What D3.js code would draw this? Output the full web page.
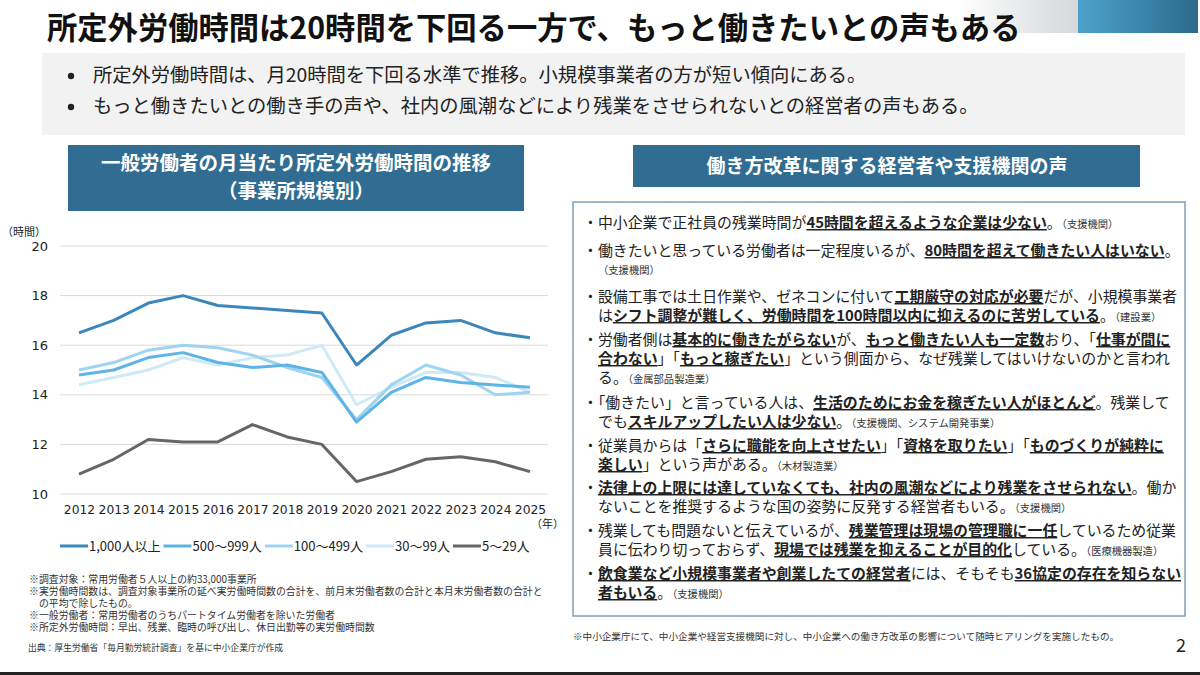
<!DOCTYPE html>
<html>
<head>
<meta charset="utf-8">
<script src="https://cdn.jsdelivr.net/npm/d3@7"></script>
<style>
  body { margin: 0; background: #fff; }
  svg { display: block; font-family: "Noto Sans CJK JP", "Noto Sans", sans-serif; }
  .axis-num { font-family: "DejaVu Sans", Verdana, sans-serif; }
</style>
</head>
<body>
<div id="slide"></div>
<script>
// chart data
const years = [2012, 2013, 2014, 2015, 2016, 2017, 2018, 2019, 2020, 2021, 2022, 2023, 2024, 2025];
const seriesNames = ['1,000人以上', '500～999人', '100～499人', '30～99人', '5～29人'];
const size1000 = [16.5, 17.0, 17.7, 18.0, 17.6, 17.5, 17.4, 17.3, 15.2, 16.4, 16.9, 17.0, 16.5, 16.3];
const size500 = [14.8, 15.0, 15.5, 15.7, 15.3, 15.1, 15.2, 14.9, 12.9, 14.1, 14.7, 14.5, 14.4, 14.3];
const size100 = [15.0, 15.3, 15.8, 16.0, 15.9, 15.6, 15.1, 14.7, 13.0, 14.4, 15.2, 14.8, 14.0, 14.1];
const size30 = [14.4, 14.7, 15.0, 15.5, 15.2, 15.5, 15.6, 16.0, 13.6, 14.3, 14.9, 14.9, 14.7, 14.1];
const size5 = [10.8, 11.4, 12.2, 12.1, 12.1, 12.8, 12.3, 12.0, 10.5, 10.9, 11.4, 11.5, 11.3, 10.9];
const yTicks = [10, 12, 14, 16, 18, 20];
const seriesColors = ['#3b86bb', '#5db4e7', '#9fd4f1', '#cfe9f7', '#666666'];

// text content
const titleText = '所定外労働時間は20時間を下回る一方で、もっと働きたいとの声もある';
const summaryLines = [
  '所定外労働時間は、月20時間を下回る水準で推移。小規模事業者の方が短い傾向にある。',
  'もっと働きたいとの働き手の声や、社内の風潮などにより残業をさせられないとの経営者の声もある。'
];
const footnotes = [
  '※調査対象：常用労働者５人以上の約33,000事業所',
  '※実労働時間数は、調査対象事業所の延べ実労働時間数の合計を、前月末労働者数の合計と本月末労働者数の合計と',
  '　の平均で除したもの。',
  '※一般労働者：常用労働者のうちパートタイム労働者を除いた労働者',
  '※所定外労働時間：早出、残業、臨時の呼び出し、休日出勤等の実労働時間数'
];
// **bold underline**, ((small))
const voiceLines = [
  ['・中小企業で正社員の残業時間が**45時間を超えるような企業は少ない**。((（支援機関）))', 0],
  ['・働きたいと思っている労働者は一定程度いるが、**80時間を超えて働きたい人はいない**。', 0],
  ['((（支援機関）))', 1],
  ['・設備工事では土日作業や、ゼネコンに付いて**工期厳守の対応が必要**だが、小規模事業者', 0],
  ['は**シフト調整が難しく、労働時間を100時間以内に抑えるのに苦労している**。((（建設業）))', 1],
  ['・労働者側は**基本的に働きたがらない**が、**もっと働きたい人も一定数**おり、「**仕事が間に**', 0],
  ['**合わない**」「**もっと稼ぎたい**」という側面から、なぜ残業してはいけないのかと言われ', 1],
  ['る。((（金属部品製造業）))', 1],
  ['・「働きたい」と言っている人は、**生活のためにお金を稼ぎたい人がほとんど**。残業して', 0],
  ['でも**スキルアップしたい人は少ない**。((（支援機関、システム開発事業）))', 1],
  ['・従業員からは「**さらに職能を向上させたい**」「**資格を取りたい**」「**ものづくりが純粋に**', 0],
  ['**楽しい**」という声がある。((（木材製造業）))', 1],
  ['・**法律上の上限には達していなくても、社内の風潮などにより残業をさせられない**。働か', 0],
  ['ないことを推奨するような国の姿勢に反発する経営者もいる。((（支援機関）))', 1],
  ['・残業しても問題ないと伝えているが、**残業管理は現場の管理職に一任**しているため従業', 0],
  ['員に伝わり切っておらず、**現場では残業を抑えることが目的化**している。((（医療機器製造）))', 1],
  ['・**飲食業など小規模事業者や創業したての経営者**には、そもそも**36協定の存在を知らない**', 0],
  ['**者もいる**。((（支援機関）))', 1]
];
const voiceY = [228, 256, 274, 302, 321, 345, 364, 383, 408, 427, 451, 470, 493, 512, 536, 555, 579, 598];

const W = 1200, H = 675;
const svg = d3.select('#slide').append('svg')
  .attr('width', W)
  .attr('height', H);

// top right decoration
const defs = svg.append('defs');
const gGray = defs.append('linearGradient').attr('id', 'gGray');
gGray.append('stop').attr('offset', '0%').attr('stop-color', '#ffffff');
gGray.append('stop').attr('offset', '100%').attr('stop-color', '#d5d7d9');
const gBlue = defs.append('linearGradient').attr('id', 'gBlue');
gBlue.append('stop').attr('offset', '0%').attr('stop-color', '#4da2cb');
gBlue.append('stop').attr('offset', '100%').attr('stop-color', '#2c6a8f');
svg.append('rect').attr('x', 957).attr('y', 0).attr('width', 121).attr('height', 33).attr('fill', 'url(#gGray)');
svg.append('rect').attr('x', 1078).attr('y', 0).attr('width', 120).attr('height', 33).attr('fill', 'url(#gBlue)');

// title
svg.append('text')
  .attr('x', 47)
  .attr('y', 39)
  .attr('font-size', 30.3)
  .attr('font-weight', 'bold')
  .attr('fill', '#111')
  .text(titleText);

// summary box
svg.append('rect').attr('x', 42).attr('y', 53).attr('width', 1143).attr('height', 82).attr('fill', '#f2f2f2');
summaryLines.forEach((t, i) => {
  svg.append('circle').attr('cx', 71).attr('cy', 76 + i * 31).attr('r', 3.2).attr('fill', '#222');
  svg.append('text')
    .attr('x', 93)
    .attr('y', 82 + i * 31)
    .attr('font-size', 19.3)
    .attr('fill', '#222')
    .text(t);
});

// header boxes
const headColor = '#316d92';
svg.append('rect').attr('x', 68).attr('y', 145).attr('width', 456).attr('height', 66).attr('fill', headColor);
svg.append('text').attr('x', 296).attr('y', 170).attr('text-anchor', 'middle')
  .attr('font-size', 19.5).attr('font-weight', 'bold').attr('fill', '#fff')
  .text('一般労働者の月当たり所定外労働時間の推移');
svg.append('text').attr('x', 296).attr('y', 198).attr('text-anchor', 'middle')
  .attr('font-size', 19.5).attr('font-weight', 'bold').attr('fill', '#fff')
  .text('（事業所規模別）');

svg.append('rect').attr('x', 633).attr('y', 145).attr('width', 507).attr('height', 42).attr('fill', headColor);
svg.append('text').attr('x', 887).attr('y', 173).attr('text-anchor', 'middle')
  .attr('font-size', 19).attr('font-weight', 'bold').attr('fill', '#fff')
  .text('働き方改革に関する経営者や支援機関の声');

// line chart
const xScale = d3.scalePoint().domain(years).range([79, 530]);
const yScale = d3.scaleLinear().domain([10, 20]).range([494, 246]);

const chart = svg.append('g');

chart.selectAll('.grid')
  .data(yTicks)
  .enter()
  .append('line')
  .attr('class', 'grid')
  .attr('x1', 60)
  .attr('x2', 548)
  .attr('y1', (d) => yScale(d))
  .attr('y2', (d) => yScale(d))
  .attr('stroke', '#d9d9d9')
  .attr('stroke-width', 1);

// y axis labels
const yAxis = chart.append('g')
  .attr('transform', 'translate(50,0)')
  .call(d3.axisLeft(yScale).tickValues(yTicks).tickSize(0).tickPadding(2));
yAxis.select('.domain').remove();
yAxis.selectAll('text')
  .attr('class', 'axis-num')
  .attr('font-size', 13)
  .attr('fill', '#222');

// x axis labels
const xAxis = chart.append('g')
  .attr('transform', 'translate(0,500)')
  .call(d3.axisBottom(xScale).tickSize(0).tickPadding(5));
xAxis.select('.domain').remove();
xAxis.selectAll('text')
  .attr('class', 'axis-num')
  .attr('font-size', 12.3)
  .attr('fill', '#222');

svg.append('text').attr('x', 2).attr('y', 236).attr('font-size', 11).attr('fill', '#222').text('（時間）');
svg.append('text').attr('x', 531).attr('y', 528).attr('font-size', 11).attr('fill', '#222').text('（年）');

const allSeries = [size1000, size500, size100, size30, size5];
const line = d3.line()
  .x((d, i) => xScale(years[i]))
  .y((d) => yScale(d));

// draw lightest first so darker lines sit on top
const drawOrder = [3, 2, 1, 0, 4];
drawOrder.forEach((k) => {
  chart.append('path')
    .datum(allSeries[k])
    .attr('fill', 'none')
    .attr('stroke', seriesColors[k])
    .attr('stroke-width', 3)
    .attr('stroke-linejoin', 'round')
    .attr('d', line);
});

// legend
const legend = svg.append('g').attr('transform', 'translate(60,546)');
let lx = 0;
seriesNames.forEach((name, k) => {
  legend.append('line')
    .attr('x1', lx).attr('x2', lx + 28)
    .attr('y1', 0).attr('y2', 0)
    .attr('stroke', seriesColors[k])
    .attr('stroke-width', 3);
  const t = legend.append('text')
    .attr('x', lx + 29)
    .attr('y', 5)
    .attr('font-size', 13)
    .attr('fill', '#222')
    .text(name);
  lx += 29 + t.node().getComputedTextLength() + 3;
});

// footnotes
const footY = [583, 595, 607, 619, 631];
footnotes.forEach((t, i) => {
  svg.append('text').attr('x', 29).attr('y', footY[i])
    .attr('font-size', 9.9).attr('fill', '#333').text(t);
});
svg.append('text').attr('x', 28).attr('y', 651)
  .attr('font-size', 8.8).attr('fill', '#333')
  .text('出典：厚生労働省「毎月勤労統計調査」を基に中小企業庁が作成');

// voices panel
svg.append('rect')
  .attr('x', 573).attr('y', 202).attr('width', 612).attr('height', 414)
  .attr('fill', '#fff').attr('stroke', '#7f9fb6').attr('stroke-width', 1.5);

function parseSegments(str) {
  const parts = [];
  const re = /\*\*(.+?)\*\*|\(\((.+?)\)\)/g;
  let last = 0, m;
  while ((m = re.exec(str)) !== null) {
    if (m.index > last) parts.push({ t: str.slice(last, m.index), s: 'n' });
    if (m[1] !== undefined) parts.push({ t: m[1], s: 'b' });
    else parts.push({ t: m[2], s: 's' });
    last = re.lastIndex;
  }
  if (last < str.length) parts.push({ t: str.slice(last), s: 'n' });
  return parts;
}

voiceLines.forEach(([str, indent], i) => {
  const txt = svg.append('text')
    .attr('x', indent ? 598 : 583)
    .attr('y', voiceY[i])
    .attr('font-size', 14.9)
    .attr('fill', '#222');
  parseSegments(str).forEach((seg) => {
    const ts = txt.append('tspan').text(seg.t);
    if (seg.s === 'b') {
      ts.attr('font-weight', 'bold').style('text-decoration', 'underline');
    } else if (seg.s === 's') {
      ts.attr('font-size', 10.3).attr('fill', '#333');
    }
  });
});

svg.append('text').attr('x', 573).attr('y', 640)
  .attr('font-size', 9.6).attr('fill', '#333')
  .text('※中小企業庁にて、中小企業や経営支援機関に対し、中小企業への働き方改革の影響について随時ヒアリングを実施したもの。');

svg.append('text').attr('x', 1186).attr('y', 652).attr('text-anchor', 'end')
  .attr('font-size', 18).attr('fill', '#222').text('2');

// bottom rule
svg.append('rect').attr('x', 0).attr('y', 672).attr('width', W).attr('height', 3).attr('fill', '#222');
</script>
</body>
</html>
